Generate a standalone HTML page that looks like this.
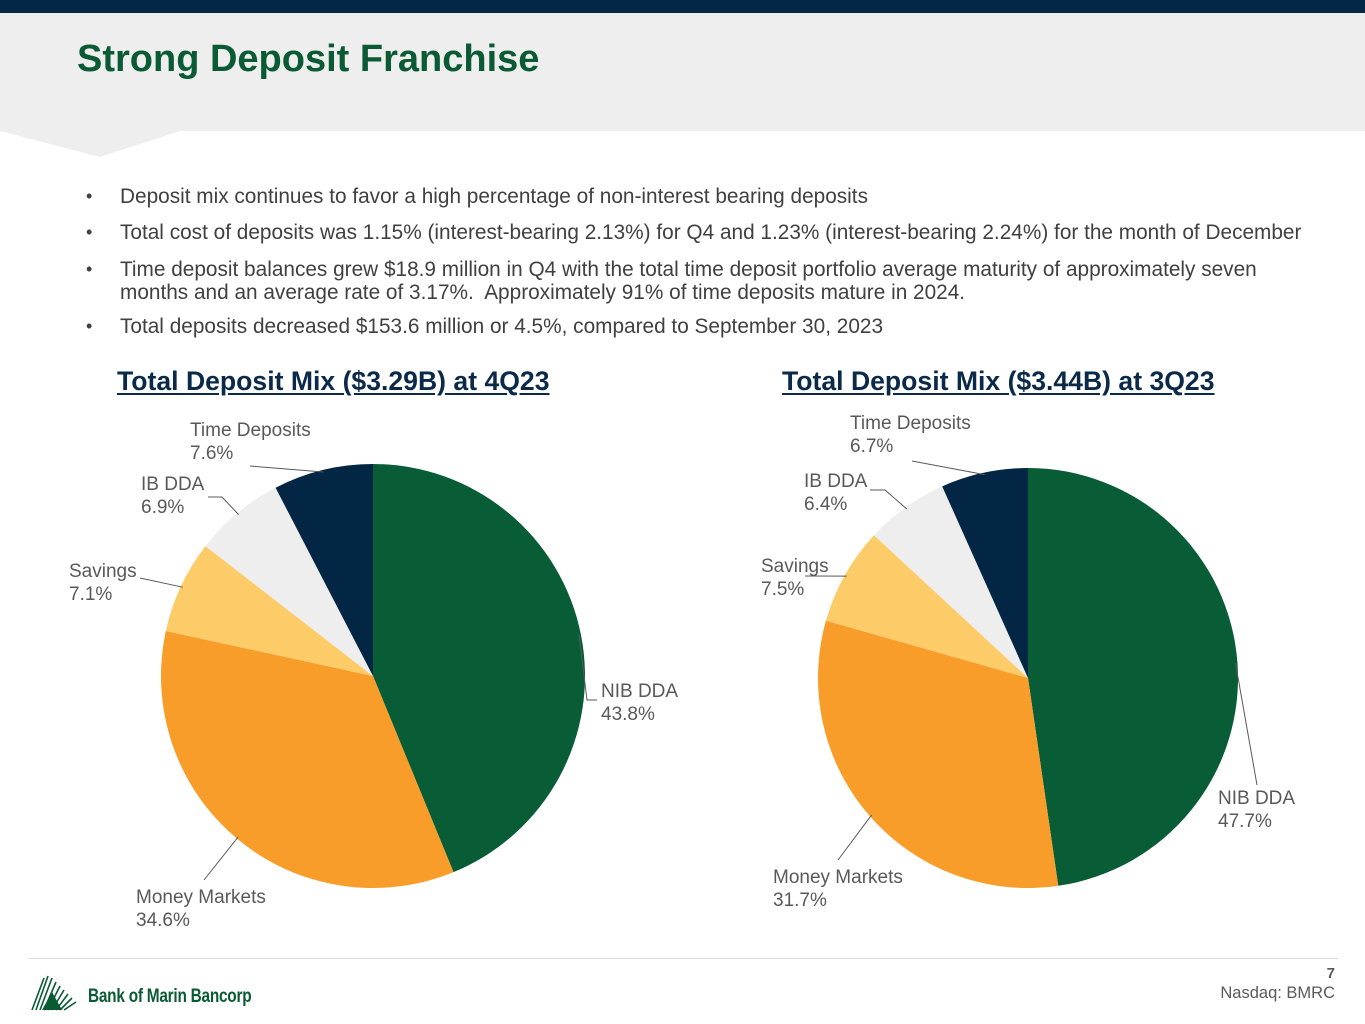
<!DOCTYPE html>
<html><head><meta charset="utf-8"><style>
body{margin:0;width:1365px;height:1024px;position:relative;background:#fff;font-family:"Liberation Sans",sans-serif;overflow:hidden}
.abs{position:absolute}
ul{margin:0;padding:0;list-style:none}
li{position:absolute;left:0;font-size:20.8px;color:#404040;line-height:23px;white-space:nowrap}
li:before{content:"•";position:absolute;left:-34px;font-size:18px}
.ct{position:absolute;font-size:26.6px;font-weight:bold;color:#0B2A4A;text-decoration:underline;text-underline-offset:3px;white-space:nowrap}
</style></head><body>
<div class="abs" style="left:0;top:0;width:1365px;height:13px;background:#042745"></div>
<svg class="abs" style="left:0;top:13px" width="1365" height="150">
<polygon points="0,0 1365,0 1365,118 180,118 100,144 0,118" fill="#EEEEEE"/></svg>
<div class="abs" style="left:77px;top:38px;font-size:38px;font-weight:bold;color:#0A5A34">Strong Deposit Franchise</div>
<ul class="abs" style="left:120px;top:0">
<li style="top:185px">Deposit mix continues to favor a high percentage of non-interest bearing deposits</li>
<li style="top:221px">Total cost of deposits was 1.15% (interest-bearing 2.13%) for Q4 and 1.23% (interest-bearing 2.24%) for the month of December</li>
<li style="top:258px">Time deposit balances grew $18.9 million in Q4 with the total time deposit portfolio average maturity of approximately seven<br>months and an average rate of 3.17%.&nbsp; Approximately 91% of time deposits mature in 2024.</li>
<li style="top:315px">Total deposits decreased $153.6 million or 4.5%, compared to September 30, 2023</li>
</ul>
<div class="ct" style="left:117px;top:366px">Total Deposit Mix ($3.29B) at 4Q23</div>
<div class="ct" style="left:782px;top:366px">Total Deposit Mix ($3.44B) at 3Q23</div>
<svg id="pies" class="abs" style="left:0;top:0" width="1365" height="950"></svg>
<div class="abs" style="left:28px;top:958px;width:1310px;height:1px;background:#DDDDDD"></div>
<svg class="abs" style="left:30px;top:974px" width="52" height="38">
<g stroke="#0A5A34" stroke-width="1.6"><line x1="2" y1="36" x2="14" y2="4"/><line x1="6" y1="36" x2="18" y2="2"/><line x1="10" y1="36" x2="22" y2="4"/><line x1="14" y1="36" x2="26" y2="8"/><line x1="18" y1="36" x2="30" y2="12"/><line x1="22" y1="36" x2="34" y2="16"/><line x1="26" y1="36" x2="38" y2="20"/><line x1="30" y1="36" x2="42" y2="24"/><line x1="34" y1="36" x2="46" y2="28"/></g>
<polygon points="12,36 22,18 32,36" fill="#0A5A34"/></svg>
<div class="abs" style="left:88px;top:986px;font-size:19px;font-weight:bold;color:#0A5A34;transform:scaleX(0.81);transform-origin:left;letter-spacing:-0.3px;white-space:nowrap">Bank of Marin Bancorp</div>
<div class="abs" style="right:30px;top:965px;font-size:15px;font-weight:bold;color:#595959">7</div>
<div class="abs" style="right:30px;top:984px;font-size:16.5px;color:#595959">Nasdaq: BMRC</div>
<script>
const categories=["NIB DDA","Money Markets","Savings","IB DDA","Time Deposits"];
const values4Q23=[43.8,34.6,7.1,6.9,7.6];
const values3Q23=[47.7,31.7,7.5,6.4,6.7];
const colors=["#085C36","#F99D2A","#FDCB67","#EEEEEE","#022644"];
const NS="http://www.w3.org/2000/svg";
const svg=document.getElementById('pies');
function mk(t,a){const e=document.createElementNS(NS,t);for(const k in a)e.setAttribute(k,a[k]);svg.appendChild(e);return e;}
function pie(vals,cx,cy,r,labels,key){
 const tot=vals.reduce((a,b)=>a+b,0);let a0=0;
 vals.forEach((v,i)=>{
  const a1=a0+v/tot*2*Math.PI;
  const p=a=>[cx+r*Math.sin(a),cy-r*Math.cos(a)];
  const [x0,y0]=p(a0),[x1,y1]=p(a1);
  const path=mk('path',{d:`M${cx},${cy}L${x0},${y0}A${r},${r} 0 ${a1-a0>Math.PI?1:0} 1 ${x1},${y1}Z`,fill:colors[i]});
  
  
  const am=(a0+a1)/2;const [ex,ey]=[cx+(r-2)*Math.sin(am),cy-(r-2)*Math.cos(am)];
  const L=labels[i];
  const ln=mk('polyline',{points:`${ex},${ey} ${L.lx},${L.ly} ${L.lx2},${L.ly}`,fill:'none',stroke:'#595959','stroke-width':1});
  
  
  const t=mk('text',{x:L.tx,y:L.ty,fill:'#595959','font-size':19,'font-family':'Liberation Sans, sans-serif'});
  
  
  const s1=document.createElementNS(NS,'tspan');s1.setAttribute('x',L.tx);s1.textContent=categories[i];t.appendChild(s1);
  const s2=document.createElementNS(NS,'tspan');s2.setAttribute('x',L.tx);s2.setAttribute('dy',23);s2.textContent=v.toFixed(1)+'%';t.appendChild(s2);
  a0=a1;
 });
}
pie(values4Q23,373,676,212,[
 {lx:587,ly:700,lx2:597,tx:601,ty:697},
 {lx:204,ly:880,lx2:204,tx:136,ty:903},
 {lx:140,ly:578,lx2:140,tx:69,ty:577},
 {lx:222,ly:497,lx2:208,tx:141,ty:490},
 {lx:250,ly:466,lx2:250,tx:190,ty:436}],'4q23');
pie(values3Q23,1028,678,210,[
 {lx:1257,ly:785,lx2:1257,tx:1218,ty:804},
 {lx:838,ly:860,lx2:838,tx:773,ty:883},
 {lx:805,ly:576,lx2:805,tx:761,ty:572},
 {lx:885,ly:490,lx2:870,tx:804,ty:487},
 {lx:912,ly:461,lx2:912,tx:850,ty:429}],'3q23');
</script>
</body></html>
